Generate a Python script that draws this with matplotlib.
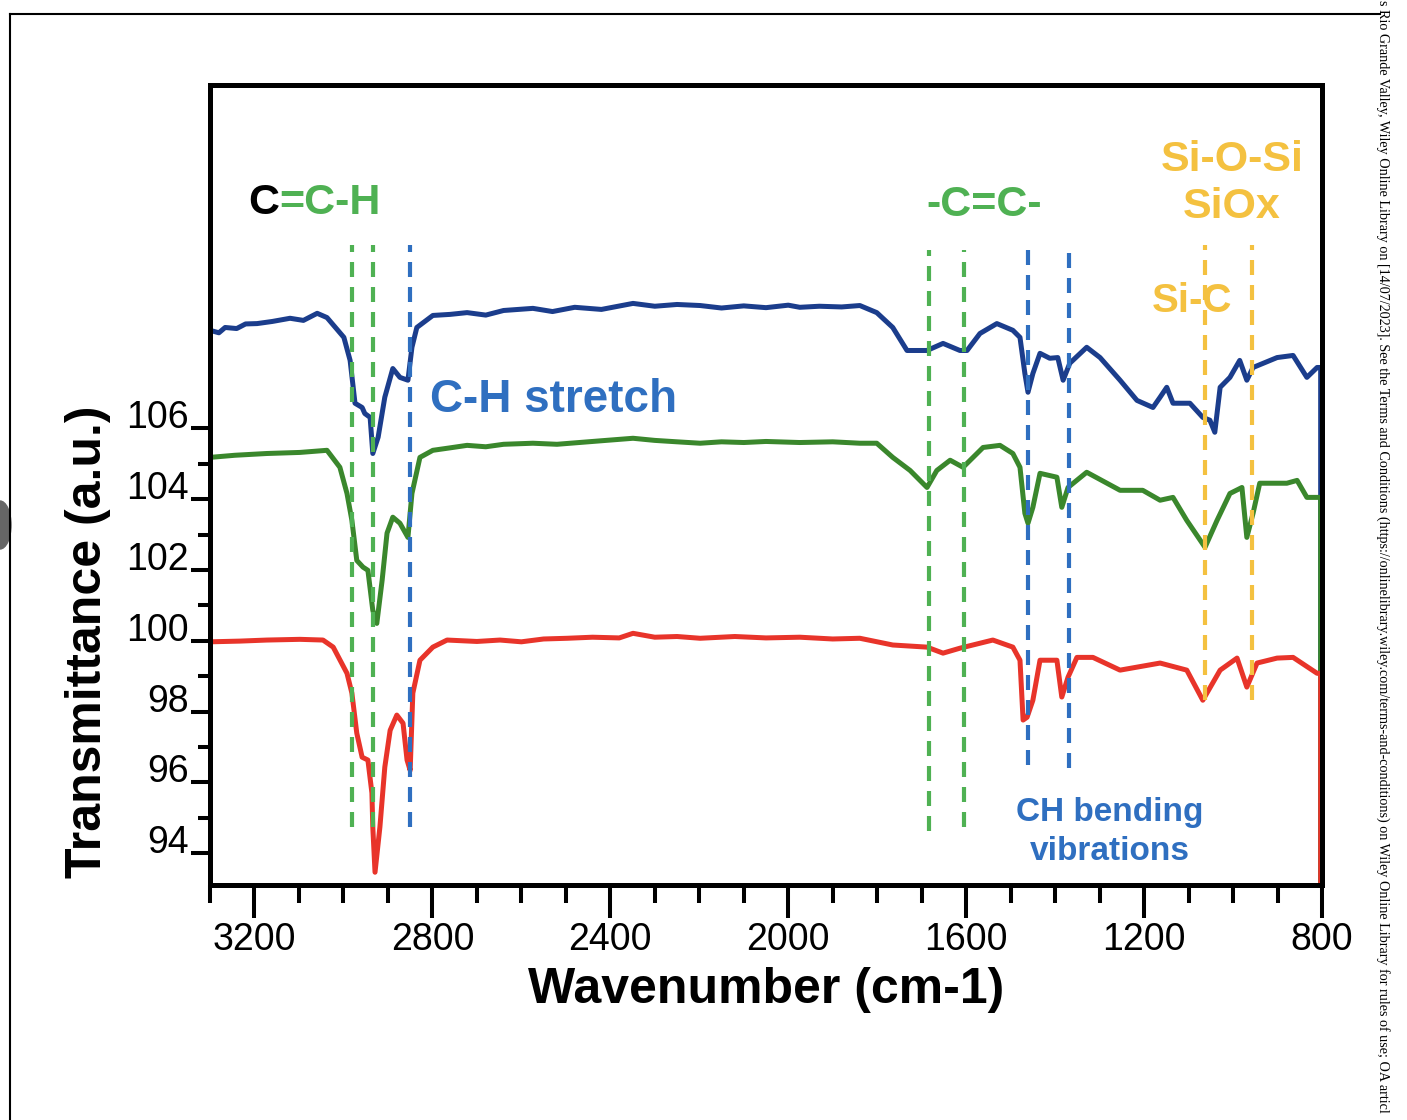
import numpy as np
import matplotlib
matplotlib.use("Agg")
from matplotlib import pyplot as plt
from matplotlib.patches import Ellipse
from matplotlib.ticker import MultipleLocator

plt.rcParams['font.family'] = ['Liberation Sans', 'DejaVu Sans']

# spectra: (wavenumber, transmittance)
bleu = [(3300, 108.77), (3280, 108.70), (3266, 108.85), (3240, 108.82), (3220, 108.95),
        (3194, 108.96), (3160, 109.02), (3120, 109.11), (3090, 109.05), (3059, 109.25),
        (3037, 109.13), (2999, 108.57), (2985, 107.92), (2974, 106.71), (2958, 106.59),
        (2952, 106.42), (2940, 106.31), (2934, 105.29), (2922, 105.75), (2907, 106.88),
        (2889, 107.69), (2873, 107.44), (2855, 107.36), (2846, 108.29), (2835, 108.85),
        (2799, 109.19), (2760, 109.22), (2722, 109.27), (2680, 109.20), (2640, 109.33),
        (2574, 109.39), (2530, 109.30), (2480, 109.42), (2420, 109.36), (2349, 109.53),
        (2300, 109.45), (2250, 109.50), (2198, 109.47), (2150, 109.40), (2100, 109.46),
        (2050, 109.41), (2000, 109.48), (1974, 109.42), (1930, 109.45), (1880, 109.43),
        (1839, 109.47), (1801, 109.27), (1765, 108.85), (1733, 108.20), (1688, 108.20),
        (1652, 108.40), (1614, 108.20), (1598, 108.20), (1569, 108.68), (1531, 108.96),
        (1495, 108.77), (1479, 108.57), (1468, 107.55), (1461, 107.02), (1450, 107.55),
        (1434, 108.12), (1412, 107.98), (1394, 108.00), (1382, 107.36), (1367, 107.84),
        (1329, 108.29), (1299, 108.00), (1254, 107.36), (1216, 106.79), (1180, 106.59),
        (1164, 106.88), (1149, 107.16), (1135, 106.71), (1097, 106.71), (1068, 106.31),
        (1052, 106.23), (1041, 105.89), (1029, 107.16), (1007, 107.44), (985, 107.92),
        (969, 107.36), (955, 107.72), (901, 108.00), (865, 108.06), (834, 107.44),
        (811, 107.72), (803, 107.72), (803, 80.0)]

vert = [(3300, 105.18), (3244, 105.24), (3172, 105.29), (3098, 105.32), (3037, 105.38),
        (3008, 104.90), (2992, 104.16), (2981, 103.40), (2970, 102.27), (2956, 102.08),
        (2945, 101.99), (2934, 100.86), (2925, 100.49), (2913, 101.71), (2902, 103.04),
        (2889, 103.49), (2873, 103.32), (2855, 102.92), (2846, 104.16), (2828, 105.18),
        (2799, 105.38), (2760, 105.45), (2722, 105.52), (2680, 105.48), (2640, 105.55),
        (2574, 105.58), (2520, 105.55), (2470, 105.60), (2420, 105.65), (2349, 105.72),
        (2300, 105.66), (2250, 105.62), (2198, 105.58), (2150, 105.62), (2100, 105.60),
        (2050, 105.63), (1974, 105.60), (1900, 105.62), (1839, 105.58), (1801, 105.58),
        (1765, 105.18), (1726, 104.81), (1688, 104.33), (1666, 104.81), (1636, 105.10),
        (1607, 104.90), (1562, 105.46), (1524, 105.52), (1495, 105.29), (1479, 104.90),
        (1468, 103.60), (1461, 103.32), (1450, 103.77), (1434, 104.73), (1396, 104.62),
        (1385, 103.77), (1371, 104.33), (1329, 104.76), (1254, 104.25), (1203, 104.25),
        (1164, 103.97), (1135, 104.05), (1104, 103.40), (1063, 102.64), (1036, 103.40),
        (1007, 104.16), (980, 104.33), (969, 102.92), (955, 103.60), (940, 104.45),
        (879, 104.45), (856, 104.53), (834, 104.05), (811, 104.05), (803, 104.05),
        (803, 80.0)]

rouge = [(3300, 99.97), (3233, 99.99), (3172, 100.02), (3098, 100.04), (3046, 100.02),
         (3023, 99.82), (2992, 99.08), (2981, 98.52), (2970, 97.39), (2958, 96.71),
         (2945, 96.63), (2936, 95.70), (2934, 94.74), (2929, 93.46), (2918, 94.74),
         (2907, 96.43), (2895, 97.47), (2880, 97.90), (2866, 97.67), (2857, 96.63),
         (2850, 96.34), (2844, 98.52), (2828, 99.45), (2799, 99.82), (2767, 100.02),
         (2700, 99.98), (2648, 100.02), (2600, 99.97), (2550, 100.05), (2497, 100.07),
         (2440, 100.10), (2380, 100.08), (2349, 100.21), (2300, 100.10), (2250, 100.12),
         (2198, 100.07), (2120, 100.12), (2050, 100.08), (1974, 100.10), (1900, 100.05),
         (1839, 100.07), (1765, 99.88), (1688, 99.82), (1652, 99.65), (1614, 99.79),
         (1540, 100.02), (1495, 99.82), (1479, 99.45), (1472, 97.76), (1463, 97.84),
         (1450, 98.32), (1434, 99.45), (1396, 99.45), (1385, 98.41), (1371, 98.97),
         (1351, 99.53), (1315, 99.53), (1254, 99.17), (1164, 99.37), (1104, 99.17),
         (1068, 98.32), (1029, 99.17), (991, 99.51), (969, 98.69), (946, 99.37),
         (901, 99.51), (865, 99.53), (811, 99.08), (803, 99.08), (803, 80.0)]

# dashed marker lines: (position, bottom, top)
traits_verts = [(2981, 94.74, 111.17), (2934, 94.74, 111.17), (1684, 94.62, 111.03), (1605, 94.74, 111.03)]
traits_bleus = [(2850, 94.74, 111.17), (1461, 96.49, 111.17), (1369, 96.40, 111.17)]
traits_jaunes = [(1063, 98.32, 111.17), (958, 98.32, 111.17)]

ticks_x = [3200, 2800, 2400, 2000, 1600, 1200, 800]
ticks_y = [94, 96, 98, 100, 102, 104, 106]

c_bleu = '#1b3d8c'
c_vert = '#3a872c'
c_rouge = '#e8342a'
c_vert_clair = '#4fb153'
c_bleu_clair = '#2f6fc0'
c_jaune = '#f4c140'

fig = plt.figure(figsize=(14.07, 11.2), dpi=100)
ax = fig.add_axes([210/1407, 1-885/1120, 1112/1407, 800/1120])

for pts, c in [(bleu, c_bleu), (vert, c_vert), (rouge, c_rouge)]:
    w, t = np.array(pts).T
    ax.plot(w, t, color=c, lw=3.6, solid_joinstyle='round')

for traits, c in [(traits_verts, c_vert_clair), (traits_bleus, c_bleu_clair), (traits_jaunes, c_jaune)]:
    for x0, y0, y1 in traits:
        ax.plot([x0, x0], [y0, y1], color=c, lw=3, linestyle=(0, (3.6, 2.4)), zorder=3)

ax.set_xlim(3300, 800)
ax.set_ylim(93.1, 115.7)

ax.set_xticks(ticks_x)
ax.xaxis.set_minor_locator(MultipleLocator(100))
ax.set_yticks(ticks_y)
ax.set_yticks([95, 97, 99, 101, 103, 105], minor=True)
ax.tick_params(axis='x', which='major', direction='out', length=24, width=2.9, labelsize=27, pad=3)
ax.tick_params(axis='x', which='minor', direction='out', length=13, width=2.9)
ax.tick_params(axis='y', which='major', direction='out', length=14, width=2.9, labelsize=27, pad=1.5)
ax.tick_params(axis='y', which='minor', direction='out', length=8.5, width=2.9)
for lab in ax.get_yticklabels():
    lab.set_va('baseline')
for s in ax.spines.values():
    s.set_linewidth(3.6)

ax.set_xlabel('Wavenumber (cm-1)', fontsize=36, fontweight='bold', labelpad=6)
ax.set_ylabel('Transmittance (a.u.)', fontsize=36, fontweight='bold')
ax.yaxis.set_label_coords(-0.089, 0.304)

# annotations
ax.text(3145, 112.38, 'C', color='black', fontsize=31, fontweight='bold', ha='right', va='center')
ax.text(3145, 112.38, '=C-H', color=c_vert_clair, fontsize=31, fontweight='bold', ha='left', va='center')
ax.text(2805, 106.79, 'C-H stretch', color=c_bleu_clair, fontsize=33, fontweight='bold', ha='left', va='center')
ax.text(1560, 112.30, '-C=C-', color=c_vert_clair, fontsize=31, fontweight='bold', ha='center', va='center')
ax.text(1003, 113.57, 'Si-O-Si', color=c_jaune, fontsize=31, fontweight='bold', ha='center', va='center')
ax.text(1003, 112.24, 'SiOx', color=c_jaune, fontsize=31, fontweight='bold', ha='center', va='center')
ax.text(1092, 109.61, 'Si-C', color=c_jaune, fontsize=29, fontweight='bold', ha='center', va='center')
ax.text(1277, 95.16, 'CH bending', color=c_bleu_clair, fontsize=24, fontweight='bold', ha='center', va='center')
ax.text(1277, 94.06, 'vibrations', color=c_bleu_clair, fontsize=24, fontweight='bold', ha='center', va='center')

# page cadre + bandeau vertical
fig.add_artist(plt.Line2D([10/1407, 10/1407], [0, 1-14/1120], color='black', lw=1.5))
fig.add_artist(plt.Line2D([10/1407, 1380/1407], [1-14/1120, 1-14/1120], color='black', lw=1.5))
fig.add_artist(Ellipse((0, 1-525/1120), 2*11/1407, 2*24/1120, color='#666666'))
fig.text(1383/1407, 1.0, 's Rio Grande Valley, Wiley Online Library on [14/07/2023]. See the Terms and Conditions '
         '(https://onlinelibrary.wiley.com/terms-and-conditions) on Wiley Online Library for rules of use; OA articl',
         rotation=-90, ha='center', va='top', fontsize=10.2, family='Liberation Serif')

fig.savefig('out.png', dpi=100)
